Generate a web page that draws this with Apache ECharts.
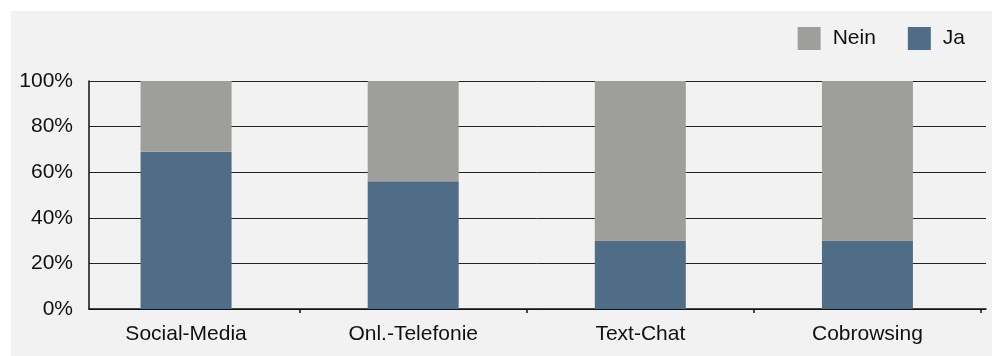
<!DOCTYPE html>
<html><head><meta charset="utf-8">
<script src="https://cdn.jsdelivr.net/npm/echarts@6/dist/echarts.min.js"></script>
<style>html,body{margin:0;padding:0;background:#fff}#c{width:992px;height:356px}</style>
</head><body><div id="c"></div>
<script>
const categories = ['Social-Media', 'Onl.-Telefonie', 'Text-Chat', 'Cobrowsing'];
const jaValues = [69, 56, 30, 30];
const neinValues = [31, 44, 70, 70];
const seriesNames = ['Nein', 'Ja'];

const FONT = '"Liberation Sans", Arial, Helvetica, sans-serif';
const chart = echarts.init(document.getElementById('c'), null, {renderer: 'canvas'});
chart.setOption({
  animation: false,
  backgroundColor: '#ffffff',
  textStyle: {fontFamily: FONT},
  graphic: [{
    type: 'rect', z: -100, silent: true,
    shape: {x: 11, y: 11, width: 981, height: 345},
    style: {fill: '#f2f2f2'}
  }],
  legend: {
    data: seriesNames,
    right: 27, top: 27, padding: 0,
    icon: 'rect', itemWidth: 23, itemHeight: 23, itemGap: 32,
    textStyle: {fontSize: 21, color: '#111', fontFamily: FONT, padding: [0, 0, 0, 7]}
  },
  grid: [
    {left: 89, right: 6, top: 81, bottom: 47},
    {left: 72.5, right: 11, top: 81, bottom: 47}
  ],
  xAxis: [
    {type: 'value', gridIndex: 0, min: 0, max: 1,
     axisLine: {show: true, lineStyle: {color: '#111', width: 1.5}},
     axisTick: {show: false}, axisLabel: {show: false}, splitLine: {show: false}},
    {type: 'category', gridIndex: 1, data: categories,
     axisLine: {show: false},
     axisTick: {show: true, length: 4, interval: (i) => i !== 0, lineStyle: {color: '#111', width: 1.5}},
     axisLabel: {fontSize: 21, color: '#111', margin: 15, fontFamily: FONT},
     splitLine: {show: false}}
  ],
  yAxis: [
    {type: 'value', gridIndex: 0, min: 0, max: 100, interval: 20,
     axisLine: {show: true, lineStyle: {color: '#111', width: 1.5}},
     axisTick: {show: false},
     axisLabel: {formatter: '{value}%', fontSize: 21, color: '#111', margin: 16, fontFamily: FONT},
     splitLine: {show: true, lineStyle: {color: '#222', width: 1}}},
    {type: 'value', gridIndex: 1, min: 0, max: 100, show: false, splitLine: {show: false}}
  ],
  series: [
    {name: 'Ja', type: 'bar', stack: 'total', xAxisIndex: 1, yAxisIndex: 1,
     barWidth: 91, data: jaValues, itemStyle: {color: '#506d87'}, z: 3},
    {name: 'Nein', type: 'bar', stack: 'total', xAxisIndex: 1, yAxisIndex: 1,
     barWidth: 91, data: neinValues, itemStyle: {color: '#9e9f9a'}, z: 3}
  ]
});
</script></body></html>
